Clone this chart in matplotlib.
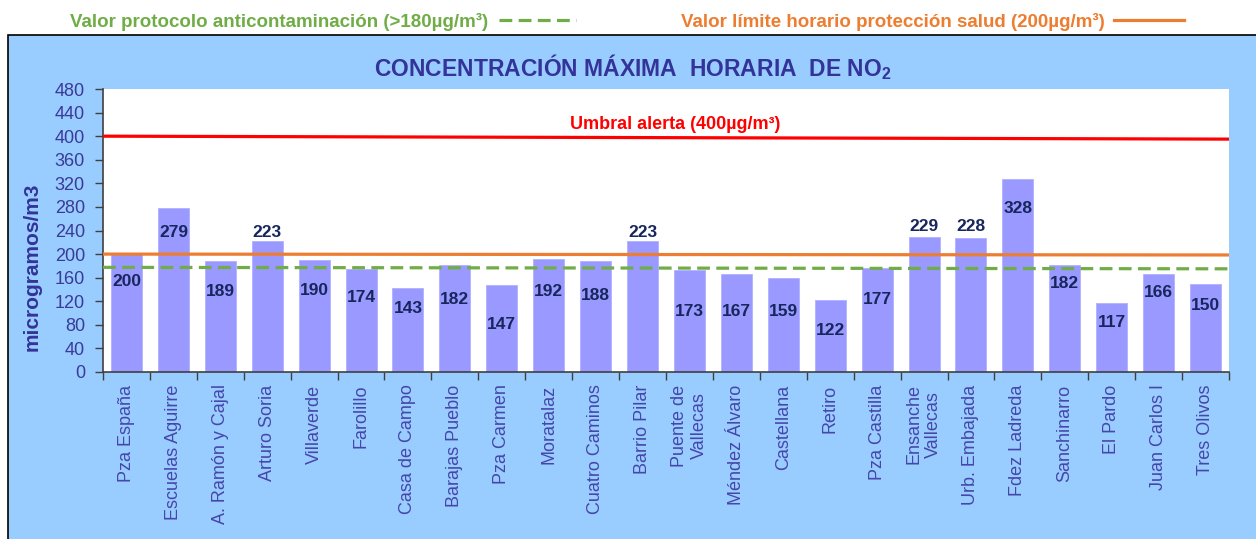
import matplotlib
matplotlib.use("Agg")
import matplotlib.pyplot as plt
from matplotlib.patches import Rectangle
from matplotlib.lines import Line2D
import numpy as np

plt.rcParams['font.family'] = ['Liberation Sans', 'DejaVu Sans']
plt.rcParams['mathtext.fontset'] = 'custom'
plt.rcParams['mathtext.rm'] = 'Liberation Sans'
plt.rcParams['mathtext.bf'] = 'Liberation Sans:bold'

# ---------------- data ----------------
stations = ["Pza España", "Escuelas Aguirre", "A. Ramón y Cajal", "Arturo Soria",
            "Villaverde", "Farolillo", "Casa de Campo", "Barajas Pueblo",
            "Pza Carmen", "Moratalaz", "Cuatro Caminos", "Barrio Pilar",
            "Puente de\nVallecas", "Méndez Álvaro", "Castellana", "Retiro",
            "Pza Castilla", "Ensanche\nVallecas", "Urb. Embajada", "Fdez Ladreda",
            "Sanchinarro", "El Pardo", "Juan Carlos I", "Tres Olivos"]
values = [200, 279, 189, 223, 190, 174, 143, 182, 147, 192, 188, 223,
          173, 167, 159, 122, 177, 229, 228, 328, 182, 117, 166, 150]
# vertical position (data units) of each value label
label_pos = [153, 237, 136, 237, 139, 126, 108, 123, 80, 136, 130, 237,
             103, 103, 103, 71, 123, 247, 247, 278, 150, 84, 135, 113]
yticks = list(range(0, 481, 40))

alert_line = [400, 395]        # red, drawn line (left, right)
limit_line = [200, 198.5]      # orange
protocol_line = [177.5, 175]   # green dashed

title_txt = "CONCENTRACIÓN MÁXIMA  HORARIA  DE NO$_{\\mathbf{2}}$"
ylabel_txt = "microgramos/m3"
alert_txt = "Umbral alerta (400µg/m³)"
protocol_txt = "Valor protocolo anticontaminación (>180µg/m³)"
limit_txt = "Valor límite horario protección salud (200µg/m³)"

# ---------------- figure ----------------
W, H = 1256, 539
fig = plt.figure(figsize=(W / 100, H / 100), dpi=100, facecolor='white')

def fx(px):
    return px / W

def fy(py):
    return 1 - py / H

panel_col = '#99CCFF'
fig.patches.append(Rectangle((fx(7.5), -0.05), 1.2, fy(34.5) + 0.05,
                             transform=fig.transFigure, facecolor=panel_col,
                             edgecolor='black', linewidth=1.2, zorder=-5))

ax = fig.add_axes([fx(103), fy(372), fx(1229) - fx(103), fy(89) - fy(372)])
ax.set_zorder(2)
ax.set_facecolor('white')

x = np.arange(len(values))
ax.bar(x, values, width=0.66, color='#9999FF', edgecolor='#b0b0ff',
       linewidth=0.6, zorder=2)

for xi, v, lp in zip(x, values, label_pos):
    ax.text(xi, lp, str(v), ha='center', va='center', fontsize=12.5,
            fontweight='bold', color='#17265C', zorder=5)

xl = (-0.5, len(values) - 0.5)
ax.plot(xl, alert_line, color='#FF0000', lw=2.3, zorder=3, solid_capstyle='butt')
ax.plot(xl, limit_line, color='#ED7D31', lw=2.3, zorder=3, solid_capstyle='butt')
ax.plot(xl, protocol_line, color='#70AD47', lw=2.3, zorder=3,
        dashes=(4, 2), dash_capstyle='butt')

ax.text(len(values) / 2 - 0.3, 420, alert_txt, ha='center', va='center',
        fontsize=13, fontweight='bold', color='#FF0000')

ax.set_xlim(*xl)
ax.set_ylim(0, 480)
ax.set_yticks(yticks)
ax.set_yticklabels([str(t) for t in yticks])
ax.tick_params(axis='y', direction='out', length=6, width=1, color='#404040',
               labelsize=13, labelcolor='#3a3a98', pad=7)

ax.set_xticks(x)
ax.set_xticklabels(stations, rotation=90, ha='center', va='top',
                   multialignment='center')
ax.set_xticks(np.arange(-0.5, len(values)), minor=True)
ax.tick_params(axis='x', which='major', length=0, labelsize=13,
               labelcolor='#4646aa', pad=9)
ax.tick_params(axis='x', which='minor', direction='out', length=6, width=1,
               color='#404040')

for s in ['top', 'right']:
    ax.spines[s].set_visible(False)
for s in ['left', 'bottom']:
    ax.spines[s].set_color('#404040')
    ax.spines[s].set_linewidth(1.2)

fig.text(fx(32), fy(267), ylabel_txt, rotation=90, ha='center', va='center',
         fontsize=15, fontweight='bold', color='#333399')

fig.text(fx(633), fy(67.5), title_txt, ha='center', va='center',
         fontsize=16.5, fontweight='bold', color='#333399')

# top legend
fig.text(fx(488), fy(22), protocol_txt, ha='right', va='center',
         fontsize=13.5, fontweight='bold', color='#70AD47')
fig.lines.append(Line2D([fx(499), fx(576)], [fy(20), fy(20)],
                        transform=fig.transFigure, color='#70AD47', lw=2.3,
                        dashes=(4, 2), dash_capstyle='butt'))
fig.text(fx(1105), fy(22), limit_txt, ha='right', va='center',
         fontsize=13.5, fontweight='bold', color='#ED7D31')
fig.lines.append(Line2D([fx(1114), fx(1184)], [fy(20), fy(20)],
                        transform=fig.transFigure, color='#ED7D31', lw=2.3))

fig.savefig('out.png', dpi=100, facecolor='white')
